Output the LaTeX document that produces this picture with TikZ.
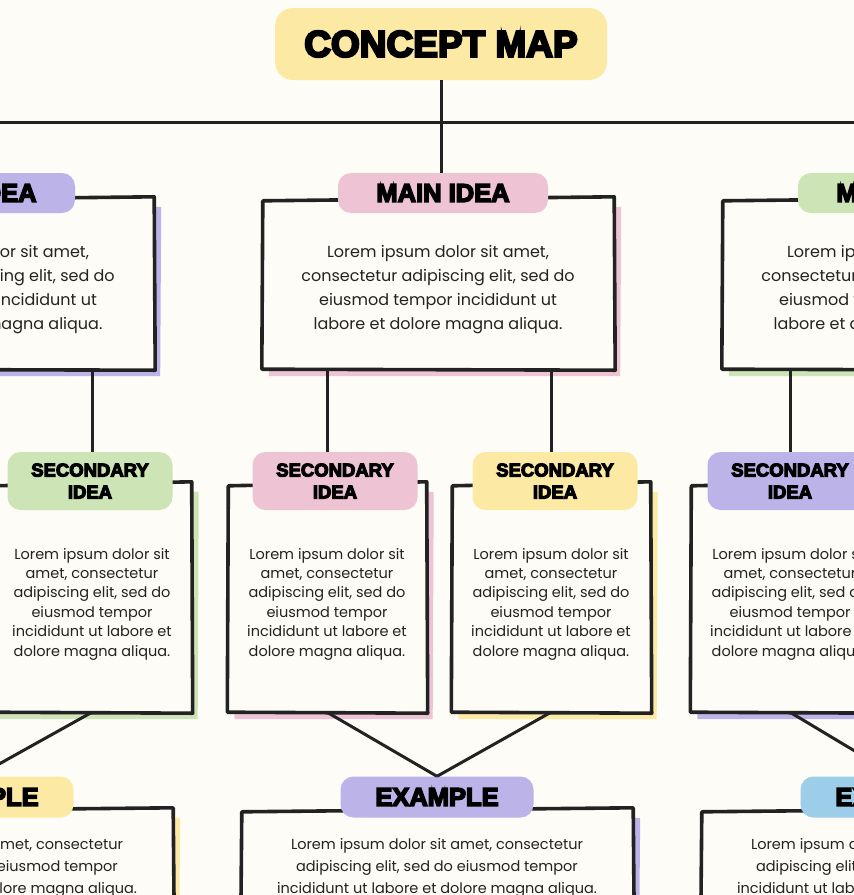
\documentclass[tikz,border=0pt]{standalone}
\usepackage{fontspec}
\setmainfont{Poppins}
\newfontfamily\headfont{Liberation Sans Bold}[FakeBold=6]
\usetikzlibrary{positioning, calc, backgrounds}
\definecolor{paper}{HTML}{FDFCF6}
\definecolor{ink}{HTML}{222222}
\definecolor{butter}{HTML}{FCE9A4}
\definecolor{blush}{HTML}{EEC3D4}
\definecolor{lilac}{HTML}{BCB4E8}
\definecolor{sage}{HTML}{CDE4B6}
\definecolor{sky}{HTML}{9CCDE9}

% invisible strut that pushes a card's text down a little
\newcommand\padtop[1]{\rule{0pt}{#1}}

% hand-drawn frame with offset colour shadow behind a card node
\newcommand\cardframe[2]{%
  \fill[#2] ($(#1.north west)+(8,9)$) -- ($(#1.north east)+(8,8)$) -- ($(#1.south east)+(7,7)$) -- ($(#1.south west)+(6,7)$) -- cycle;
  \draw[rim] ($(#1.north west)+(0,2)$) -- ($(#1.north east)+(1,-2)$) -- ($(#1.south east)+(2,1)$) -- ($(#1.south west)+(-1,0)$) -- cycle;}

\begin{document}
\begin{tikzpicture}[x=1pt, y=-1pt,
  blob/.style={fill=#1, rounded corners=13pt, inner sep=0pt, text=black, align=center},
  head/.style={font=\headfont\fontsize{25.5}{25.5}\selectfont},
  subhead/.style={font=\headfont\fontsize{18.5}{22}\selectfont},
  card/.style={inner sep=0pt, align=center, text=ink},
  maintext/.style={card, minimum width=350pt, minimum height=170pt, font=\fontsize{16}{24}\selectfont},
  sectext/.style={card, minimum width=197pt, minimum height=228pt, font=\fontsize{14.5}{19.4}\selectfont},
  extext/.style={card, minimum width=390pt, minimum height=110pt, font=\fontsize{14.5}{22}\selectfont},
  rim/.style={draw=ink, line width=3.6pt, line join=round, fill=paper},
  link/.style={draw=ink, line width=3pt}]
  \useasboundingbox (0,0) rectangle (854,895);
  \clip (0,0) rectangle (854,895);

  % Title
  \node[blob=butter, minimum width=332pt, minimum height=72pt, rounded corners=18pt, font=\headfont\fontsize{37}{37}\selectfont] (title) at (441,44) {CONCEPT MAP};

  % Main ideas
  \node[maintext] (m1) at (-22,284) {\padtop{24pt}Lorem ipsum dolor sit amet,\\consectetur adipiscing elit, sed do\\eiusmod tempor incididunt ut\\labore et dolore magna aliqua.};
  \node[maintext] (m2) at (438,284) {\padtop{24pt}Lorem ipsum dolor sit amet,\\consectetur adipiscing elit, sed do\\eiusmod tempor incididunt ut\\labore et dolore magna aliqua.};
  \node[maintext] (m3) at (898,284) {\padtop{24pt}Lorem ipsum dolor sit amet,\\consectetur adipiscing elit, sed do\\eiusmod tempor incididunt ut\\labore et dolore magna aliqua.};
  \node[blob=lilac, head, minimum width=210pt, minimum height=40pt] (m1lab) at (-30,193) {MAIN IDEA};
  \node[blob=blush, head, minimum width=210pt, minimum height=40pt] (m2lab) at (443,193) {MAIN IDEA};
  \node[blob=sage, head, minimum width=210pt, minimum height=40pt] (m3lab) at (903,193) {MAIN IDEA};

  % Secondary ideas
  \foreach \n/\x/\lx/\c in {1/92/90/sage, 2/327/335/blush, 3/551/555/butter, 4/790/790/lilac}{
    \node[sectext] (s\n) at (\x,598) {\padtop{23pt}Lorem ipsum dolor sit\\amet, consectetur\\adipiscing elit, sed do\\eiusmod tempor\\incididunt ut labore et\\dolore magna aliqua.};
    \node[blob=\c, subhead, minimum width=165pt, minimum height=58pt] (s\n lab) at (\lx,481) {SECONDARY\\IDEA};
  }

  % Examples
  \foreach \n/\x/\c in {1/-23/butter, 2/437/lilac, 3/897/sky}{
    \node[extext] (e\n) at (\x,865) {\padtop{16pt}Lorem ipsum dolor sit amet, consectetur\\adipiscing elit, sed do eiusmod tempor\\incididunt ut labore et dolore magna aliqua.};
    \node[blob=\c, head, minimum width=193pt, minimum height=41pt] (e\n lab) at (\x,797) {EXAMPLE};
  }

  % Connectors
  \coordinate (railL) at (-20,122);
  \coordinate (railR) at (874,122);
  \draw[link] (railL) -- (railR);
  \draw[link] (title.south) -- (title.south |- m2lab.north);
  \draw[link] (s1.north |- s1lab.north) -- (s1.north |- m1.south);
  \draw[link] (s2.north |- s2lab.north) -- (s2.north |- m2.south);
  \draw[link] (s3.north |- s3lab.north) -- (s3.north |- m2.south);
  \draw[link] (s4.north |- s4lab.north) -- (s4.north |- m3.south);
  \draw[link] (s1.south) -- (e1lab.north);
  \draw[link] (s2.south) -- (e2lab.north);
  \draw[link] (s3.south) -- (e2lab.north);
  \draw[link] (s4.south) -- (e3lab.north);

  % Frames and shadows
  \begin{pgfonlayer}{background}
    \fill[paper] (0,0) rectangle (854,895);
    \cardframe{m1}{lilac}
    \cardframe{m2}{blush}
    \cardframe{m3}{sage}
    \cardframe{s1}{sage}
    \cardframe{s2}{blush}
    \cardframe{s3}{butter}
    \cardframe{s4}{lilac}
    \cardframe{e1}{butter}
    \cardframe{e2}{lilac}
    \cardframe{e3}{sky}
  \end{pgfonlayer}
\end{tikzpicture}
\end{document}
